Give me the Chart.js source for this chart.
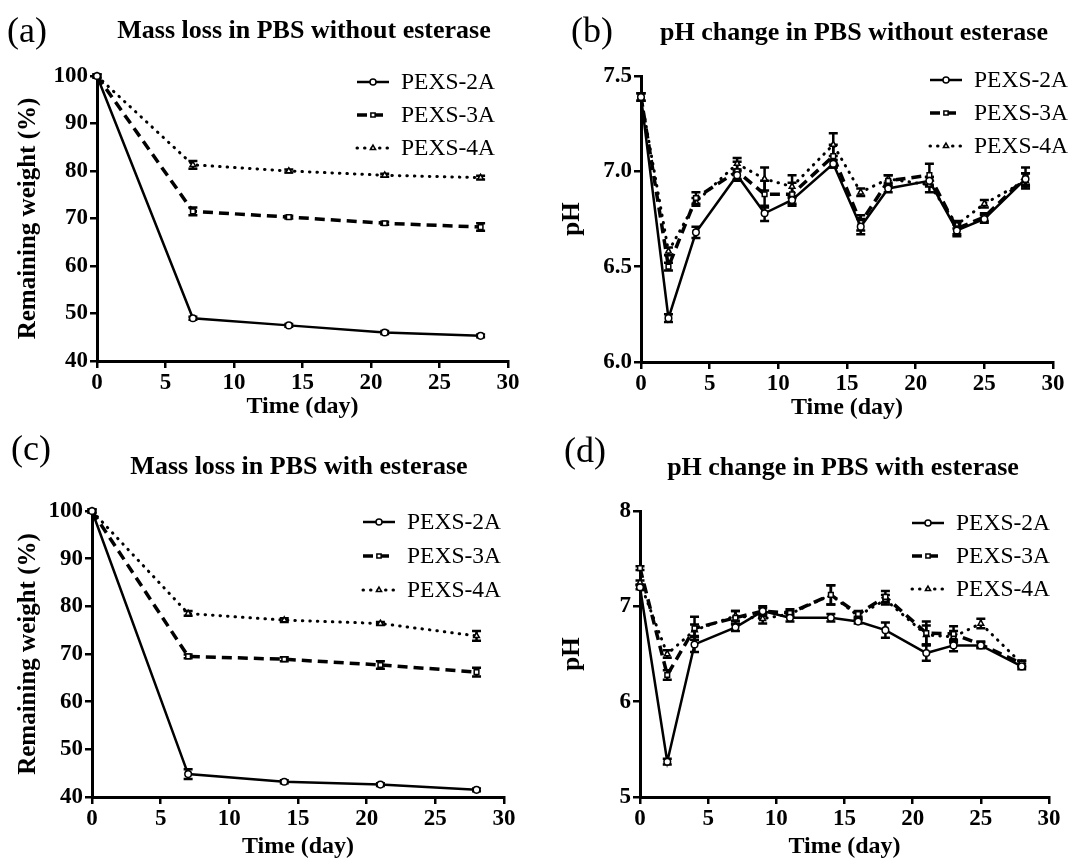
<!DOCTYPE html>
<html>
<head>
<meta charset="utf-8">
<script src="https://cdn.jsdelivr.net/npm/chart.js@4"></script>
<style>
    body { margin: 0; background: #fff; width: 1088px; height: 864px; position: relative; overflow: hidden;
           font-family: "Liberation Serif", "Times New Roman", serif; color: #000; }
    .panel { position: absolute; width: 544px; height: 432px; }
    .panel canvas { position: absolute; left: 0; top: 0; }
    .letter { position: absolute; font-size: 36px; line-height: 36px; }
    .title { position: absolute; font-size: 26px; line-height: 26px; font-weight: bold; white-space: nowrap; transform: translateX(-50%); }
</style>
</head>
<body>
<div class="panel" style="left:0;top:0"><canvas id="chartA" width="544" height="432"></canvas>
    <div class="letter" style="left:7px;top:12px">(a)</div>
    <div class="title" style="left:304px;top:17px">Mass loss in PBS without esterase</div></div>
<div class="panel" style="left:544px;top:0"><canvas id="chartB" width="544" height="432"></canvas>
    <div class="letter" style="left:27px;top:12px">(b)</div>
    <div class="title" style="left:310px;top:19px">pH change in PBS without esterase</div></div>
<div class="panel" style="left:0;top:432px"><canvas id="chartC" width="544" height="432"></canvas>
    <div class="letter" style="left:11px;top:-2px">(c)</div>
    <div class="title" style="left:299px;top:21px">Mass loss in PBS with esterase</div></div>
<div class="panel" style="left:544px;top:432px"><canvas id="chartD" width="544" height="432"></canvas>
    <div class="letter" style="left:20px;top:0px">(d)</div>
    <div class="title" style="left:299px;top:22px">pH change in PBS with esterase</div></div>
<script>
// series names
var seriesNames = ["PEXS-2A", "PEXS-3A", "PEXS-4A"];

// time points (day)
var massDays = [0, 7, 14, 21, 28];
var phDays = [0, 2, 4, 7, 9, 11, 14, 16, 18, 21, 23, 25, 28];

// (a) remaining weight (%) without esterase
var massNoEst2A = [100, 49.0, 47.5, 46.0, 45.3];
var massNoEst3A = [100, 71.5, 70.3, 69.0, 68.2];
var massNoEst4A = [100, 81.3, 80.0, 79.1, 78.6];
var massNoEstErr2A = [0.3, 0.3, 0.3, 0.3, 0.3];
var massNoEstErr3A = [0.3, 0.8, 0.3, 0.3, 0.8];
var massNoEstErr4A = [0.3, 0.8, 0.3, 0.3, 0.4];

// (b) pH without esterase
var phNoEst2A = [7.39, 6.23, 6.68, 6.98, 6.78, 6.85, 7.04, 6.71, 6.91, 6.95, 6.69, 6.75, 6.96];
var phNoEst3A = [7.39, 6.50, 6.86, 7.00, 6.88, 6.88, 7.08, 6.73, 6.95, 6.98, 6.70, 6.76, 6.97];
var phNoEst4A = [7.39, 6.58, 6.84, 7.04, 6.96, 6.92, 7.14, 6.89, 6.96, 6.93, 6.72, 6.83, 6.95];
var phNoEstErr2A = [0.02, 0.02, 0.03, 0.02, 0.04, 0.02, 0.02, 0.04, 0.02, 0.02, 0.03, 0.02, 0.03];
var phNoEstErr3A = [0.02, 0.02, 0.03, 0.05, 0.07, 0.06, 0.06, 0.04, 0.03, 0.06, 0.03, 0.02, 0.05];
var phNoEstErr4A = [0.02, 0.02, 0.02, 0.03, 0.06, 0.06, 0.06, 0.02, 0.02, 0.04, 0.02, 0.02, 0.04];

// (c) remaining weight (%) with esterase
var massEst2A = [100, 44.8, 43.2, 42.6, 41.5];
var massEst3A = [100, 69.5, 68.9, 67.7, 66.2];
var massEst4A = [100, 78.5, 77.1, 76.4, 73.8];
var massEstErr2A = [0.3, 1.0, 0.3, 0.3, 0.3];
var massEstErr3A = [0.3, 0.4, 0.4, 0.8, 0.9];
var massEstErr4A = [0.3, 0.5, 0.4, 0.3, 1.0];

// (d) pH with esterase
var phEst2A = [7.20, 5.37, 6.60, 6.78, 6.95, 6.88, 6.88, 6.84, 6.75, 6.51, 6.59, 6.59, 6.37];
var phEst3A = [7.40, 6.28, 6.77, 6.88, 6.95, 6.93, 7.12, 6.92, 7.10, 6.72, 6.71, 6.60, 6.40];
var phEst4A = [7.25, 6.50, 6.75, 6.90, 6.87, 6.92, 7.12, 6.90, 7.07, 6.70, 6.68, 6.82, 6.40];
var phEstErr2A = [0.02, 0.03, 0.08, 0.04, 0.03, 0.04, 0.04, 0.02, 0.08, 0.08, 0.06, 0.03, 0.03];
var phEstErr3A = [0.02, 0.05, 0.12, 0.07, 0.05, 0.04, 0.10, 0.03, 0.06, 0.12, 0.08, 0.03, 0.03];
var phEstErr4A = [0.02, 0.04, 0.06, 0.05, 0.05, 0.03, 0.10, 0.03, 0.05, 0.10, 0.06, 0.05, 0.03];

// line look per series
var lineWidths = [2.5, 3.5, 3];
var lineDashes = [[], [10, 6], [0.5, 7]];
var lineCaps = ["butt", "butt", "round"];
var markers = ["circle", "rect", "triangle"];

var serif = "'Liberation Serif', 'Times New Roman', serif";

// error bars drawn through the scales
var errorBars = {
    id: "errorBars",
    beforeDatasetsDraw(chart) {
        var ctx = chart.ctx;
        var xs = chart.scales.x, ys = chart.scales.y;
        ctx.save();
        ctx.strokeStyle = "#000";
        ctx.lineWidth = 2.5;
        chart.data.datasets.forEach(ds => {
            ds.data.forEach((p, j) => {
                var e = ds.errors[j];
                var px = xs.getPixelForValue(p.x);
                var top = ys.getPixelForValue(p.y + e);
                var bot = ys.getPixelForValue(p.y - e);
                ctx.beginPath();
                ctx.moveTo(px, top); ctx.lineTo(px, bot);
                ctx.moveTo(px - 4.5, top); ctx.lineTo(px + 4.5, top);
                ctx.moveTo(px - 4.5, bot); ctx.lineTo(px + 4.5, bot);
                ctx.stroke();
            });
        });
        ctx.restore();
    }
};

// legend in the upper right with line sample + marker
var sketchLegend = {
    id: "sketchLegend",
    afterDraw(chart, args, opts) {
        var ctx = chart.ctx;
        ctx.save();
        chart.data.datasets.forEach((ds, i) => {
            var y = opts.y + i * opts.gap;
            ctx.strokeStyle = "#000";
            ctx.lineWidth = ds.borderWidth;
            ctx.lineCap = ds.borderCapStyle;
            ctx.setLineDash(ds.borderDash);
            ctx.beginPath();
            ctx.moveTo(opts.x, y);
            ctx.lineTo(opts.x + 32, y);
            ctx.stroke();
            ctx.setLineDash([]);
            ctx.fillStyle = "#fff";
            ctx.lineWidth = 1.5;
            Chart.helpers.drawPoint(ctx, {pointStyle: ds.pointStyle, radius: 3, borderWidth: 1.5, rotation: 0}, opts.x + 16, y);
            ctx.fillStyle = "#000";
            ctx.font = "23.5px " + serif;
            ctx.textBaseline = "middle";
            ctx.fillText(ds.label, opts.x + 44, y + 1);
        });
        ctx.restore();
    }
};

function makeChart(canvasId, p) {
    var datasets = p.series.map((s, i) => ({
        label: seriesNames[i],
        data: p.days.map((d, j) => ({x: d, y: s[j]})),
        errors: p.errors[i],
        borderColor: "#000",
        backgroundColor: "#fff",
        borderWidth: lineWidths[i],
        borderDash: lineDashes[i],
        borderCapStyle: lineCaps[i],
        pointStyle: markers[i],
        pointRadius: 3.3,
        pointBorderWidth: 1.5,
        pointBackgroundColor: "#fff",
        pointBorderColor: "#000",
        tension: 0,
        clip: false
    }));

    new Chart(document.getElementById(canvasId), {
        type: "line",
        data: { datasets: datasets },
        plugins: [errorBars, sketchLegend],
        options: {
            responsive: false,
            animation: false,
            events: [],
            layout: { padding: { left: 0, top: p.area[1], right: 544 - p.area[2], bottom: 0 } },
            plugins: {
                legend: { display: false },
                tooltip: { enabled: false },
                sketchLegend: p.legend
            },
            scales: {
                x: {
                    type: "linear", min: 0, max: 30,
                    afterFit: s => { s.height = 432 - p.area[3]; },
                    ticks: { stepSize: 5, color: "#000", padding: 1, font: { family: serif, size: 23, weight: "bold" } },
                    grid: { drawOnChartArea: false, color: "#000", lineWidth: 2.5, tickLength: 7 },
                    border: { color: "#000", width: 3 },
                    title: { display: true, text: "Time (day)", color: "#000", padding: { top: 0, bottom: p.xTitlePad },
                             font: { family: serif, size: 24, weight: "bold" } }
                },
                y: {
                    min: p.yMin, max: p.yMax,
                    afterFit: s => { s.width = p.area[0]; },
                    ticks: { stepSize: p.yStep, color: "#000", padding: 2, callback: p.yFormat,
                             font: { family: serif, size: 23, weight: "bold" } },
                    grid: { drawOnChartArea: false, color: "#000", lineWidth: 2.5, tickLength: 7 },
                    border: { color: "#000", width: 3 },
                    title: { display: true, text: p.yTitle, color: "#000", padding: { top: 14, bottom: 0 },
                             font: { family: serif, size: 25, weight: "bold" } }
                }
            }
        }
    });
}

makeChart("chartA", {
    days: massDays,
    series: [massNoEst2A, massNoEst3A, massNoEst4A],
    errors: [massNoEstErr2A, massNoEstErr3A, massNoEstErr4A],
    area: [97, 76, 508, 361], xTitlePad: 11,
    yMin: 40, yMax: 100, yStep: 10, yFormat: v => v, yTitle: "Remaining weight (%)",
    legend: { x: 357, y: 82, gap: 33 }
});

makeChart("chartB", {
    days: phDays,
    series: [phNoEst2A, phNoEst3A, phNoEst4A],
    errors: [phNoEstErr2A, phNoEstErr3A, phNoEstErr4A],
    area: [97, 76, 509, 362], xTitlePad: 10,
    yMin: 6, yMax: 7.5, yStep: 0.5, yFormat: v => v.toFixed(1), yTitle: "pH",
    legend: { x: 386, y: 80, gap: 33 }
});

makeChart("chartC", {
    days: massDays,
    series: [massEst2A, massEst3A, massEst4A],
    errors: [massEstErr2A, massEstErr3A, massEstErr4A],
    area: [92, 79, 504, 365], xTitlePad: 3,
    yMin: 40, yMax: 100, yStep: 10, yFormat: v => v, yTitle: "Remaining weight (%)",
    legend: { x: 363, y: 90, gap: 34 }
});

makeChart("chartD", {
    days: phDays,
    series: [phEst2A, phEst3A, phEst4A],
    errors: [phEstErr2A, phEstErr3A, phEstErr4A],
    area: [96, 79, 505, 365], xTitlePad: 3,
    yMin: 5, yMax: 8, yStep: 1, yFormat: v => v, yTitle: "pH",
    legend: { x: 368, y: 91, gap: 33 }
});
</script>
</body>
</html>
